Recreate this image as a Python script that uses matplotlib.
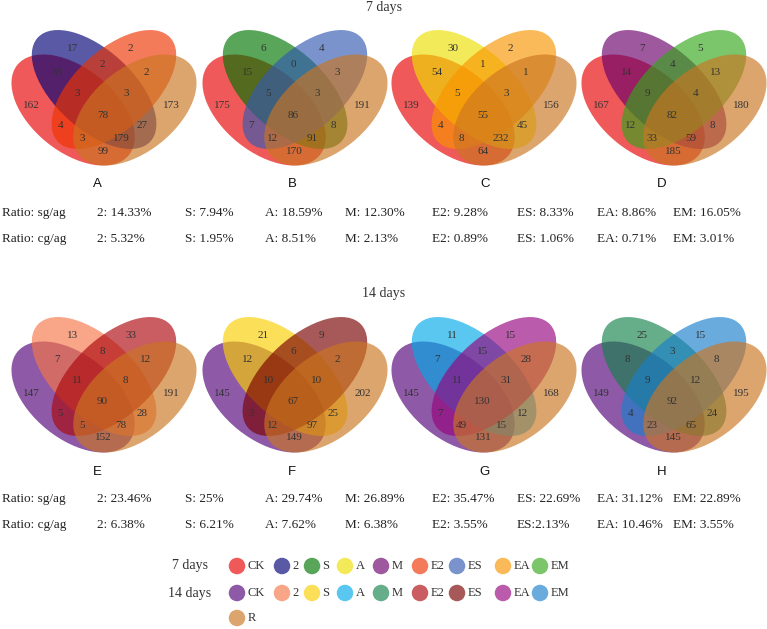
import matplotlib
matplotlib.use('Agg')
import matplotlib.pyplot as plt
from matplotlib.patches import Ellipse
from matplotlib.colors import to_rgb
import numpy as np

# region order: CK, s2, s3, R, CK&s2, s2&s3, s3&R, CK&s2&s3, s2&s3&R,
#               all, CK&s3, s2&R, CK&s3&R, CK&s2&R, CK&R
counts_A = [162, 17, 2, 173, 33, 2, 2, 3, 3, 78, 4, 27, 3, 179, 99]
counts_B = [175, 6, 4, 191, 15, 0, 3, 5, 3, 86, 7, 8, 12, 91, 170]
counts_C = [139, 30, 2, 156, 54, 1, 1, 5, 3, 55, 4, 45, 8, 232, 64]
counts_D = [167, 7, 5, 180, 14, 4, 13, 9, 4, 82, 12, 8, 33, 59, 185]
counts_E = [147, 13, 33, 191, 7, 8, 12, 11, 8, 90, 5, 28, 5, 78, 152]
counts_F = [145, 21, 9, 202, 12, 6, 2, 10, 10, 67, 3, 25, 12, 97, 149]
counts_G = [145, 11, 15, 168, 7, 15, 28, 11, 31, 130, 7, 12, 49, 15, 131]
counts_H = [149, 25, 15, 195, 8, 3, 8, 9, 12, 92, 4, 24, 23, 65, 145]

letters = ['A', 'B', 'C', 'D', 'E', 'F', 'G', 'H']
pairs = [('2', 'E2'), ('S', 'ES'), ('A', 'EA'), ('M', 'EM')]

sg_ag_7 = ['2: 14.33%', 'S: 7.94%', 'A: 18.59%', 'M: 12.30%', 'E2: 9.28%', 'ES: 8.33%', 'EA: 8.86%', 'EM: 16.05%']
cg_ag_7 = ['2: 5.32%', 'S: 1.95%', 'A: 8.51%', 'M: 2.13%', 'E2: 0.89%', 'ES: 1.06%', 'EA: 0.71%', 'EM: 3.01%']
sg_ag_14 = ['2: 23.46%', 'S: 25%', 'A: 29.74%', 'M: 26.89%', 'E2: 35.47%', 'ES: 22.69%', 'EA: 31.12%', 'EM: 22.89%']
cg_ag_14 = ['2: 6.38%', 'S: 6.21%', 'A: 7.62%', 'M: 6.38%', 'E2: 3.55%', 'ES:2.13%', 'EA: 10.46%', 'EM: 3.55%']

legend_names = ['CK', '2', 'S', 'A', 'M', 'E2', 'ES', 'EA', 'EM']
colors_7 = {'CK': '#F0464F', '2': '#4A55A6', 'S': '#40A545', 'A': '#F4EB4A', 'M': '#9E4D9E',
            'E2': '#F47B45', 'ES': '#7B93CC', 'EA': '#FBBA4C', 'EM': '#7BC56B'}
colors_14 = {'CK': '#8E56A6', '2': '#F9A588', 'S': '#FCE04A', 'A': '#55C8F0', 'M': '#66AD8A',
             'E2': '#C95E62', 'ES': '#A8403F', 'EA': '#BB5CAB', 'EM': '#6AACDD'}
color_R = '#DDA56F'

ALPHA = 0.65
serif = 'Liberation Serif'
sans = 'Liberation Sans'


def base(c):
    # colour that gives c when laid with ALPHA over white
    c = np.array(to_rgb(c))
    return tuple(np.clip((c - (1 - ALPHA)) / ALPHA, 0, 1))


# ellipse layout relative to (centre x, top y): dx, dy, semi-major, semi-minor, angle
outer = [(-30.9, 81, 71.7, 41.7, 38.9), (30.9, 81, 71.7, 41.7, -38.9)]
inner = [(-9.9, 60.5, 76.6, 39.4, 42.7), (9.9, 60.5, 76.6, 39.4, -42.7)]
label_pos = [(-72.5, 77), (-31.5, 19.5), (26.5, 19.5), (67.5, 77), (-47, 43.5), (-1.7, 35.5),
             (42, 43.5), (-26.8, 64.5), (21.8, 64.5), (-1.5, 86), (-43.5, 97), (38.5, 97),
             (-22.2, 109.5), (17.2, 109.5), (-1, 122)]


def venn(ax, cx, top, cols, counts):
    shapes = [outer[0], inner[0], inner[1], outer[1]]   # CK, s2, s3, R
    for (dx, dy, a, b, ang), col in zip(shapes, cols):
        ax.add_patch(Ellipse((cx + dx, top + dy), 2 * a, 2 * b, angle=ang,
                             facecolor=base(col), alpha=ALPHA, edgecolor='none'))
    for (lx, ly), n in zip(label_pos, counts):
        ax.text(cx + lx, top + ly, str(n), ha='center', va='center',
                fontsize=8, family=serif, color='#333333')


fig = plt.figure(figsize=(7.67, 6.29), dpi=100)
ax = fig.add_axes([0, 0, 1, 1])
ax.set_xlim(0, 767)
ax.set_ylim(629, 0)
ax.axis('off')

centres = [104, 295, 484, 674]
letter_x = [97, 292, 485, 662]
all_counts = [counts_A, counts_B, counts_C, counts_D, counts_E, counts_F, counts_G, counts_H]
ratio_x = [97, 185, 265, 345, 432, 517, 597, 673]

for row, (top, title, cmap, sg, cg) in enumerate([(29, '7 days', colors_7, sg_ag_7, cg_ag_7),
                                                   (316, '14 days', colors_14, sg_ag_14, cg_ag_14)]):
    off = row * 286
    ax.text(384, 8 + off, title, ha='center', va='center', fontsize=10, family=serif, color='#333333')
    for i, (s2, s3) in enumerate(pairs):
        k = row * 4 + i
        venn(ax, centres[i], top, [cmap['CK'], cmap[s2], cmap[s3], color_R], all_counts[k])
        ax.text(letter_x[i], 184 + off + row * 2, letters[k], ha='center', va='center',
                fontsize=9.5, family=sans, color='#111111')
    ax.text(2, 213 + off, 'Ratio: sg/ag', ha='left', va='center', fontsize=9.5, family=serif, color='#222222')
    ax.text(2, 239 + off, 'Ratio: cg/ag', ha='left', va='center', fontsize=9.5, family=serif, color='#222222')
    for x, s1, s2 in zip(ratio_x, sg, cg):
        ax.text(x, 213 + off, s1, ha='left', va='center', fontsize=9.5, family=serif, color='#222222')
        ax.text(x, 239 + off, s2, ha='left', va='center', fontsize=9.5, family=serif, color='#222222')

# legend
leg_x = [237, 282, 312, 345, 381, 420, 457, 503, 540]
ax.text(172, 566, '7 days', ha='left', va='center', fontsize=10, family=serif, color='#333333')
ax.text(168, 593, '14 days', ha='left', va='center', fontsize=10, family=serif, color='#333333')
for y, cmap in [(566, colors_7), (593, colors_14)]:
    for x, name in zip(leg_x, legend_names):
        ax.add_patch(Ellipse((x, y), 16.5, 16.5, facecolor=base(cmap[name]), alpha=ALPHA, edgecolor='none'))
        ax.text(x + 10.5, y, name, ha='left', va='center', fontsize=9, family=serif, color='#333333')
ax.add_patch(Ellipse((leg_x[0], 618), 16.5, 16.5, facecolor=base(color_R), alpha=ALPHA, edgecolor='none'))
ax.text(leg_x[0] + 10.5, 618, 'R', ha='left', va='center', fontsize=9, family=serif, color='#333333')

fig.savefig('out.png', dpi=100)
